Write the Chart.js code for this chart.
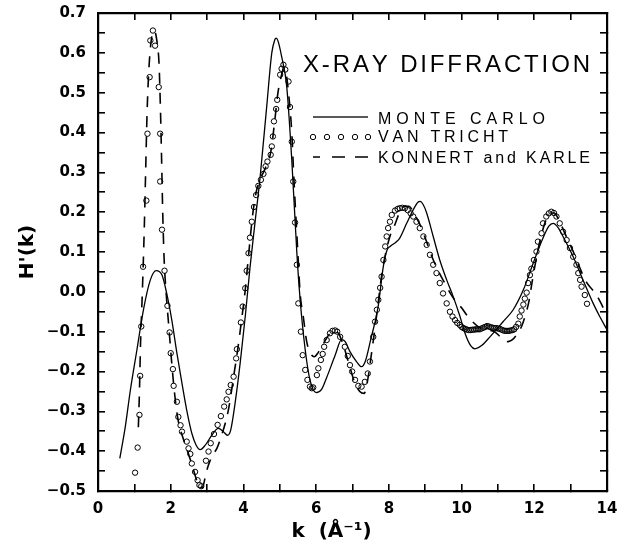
<!DOCTYPE html>
<html>
<head>
<meta charset="utf-8">
<script src="https://cdn.jsdelivr.net/npm/chart.js@4/dist/chart.umd.min.js"></script>
<style>
  html, body { margin: 0; padding: 0; background: #ffffff; }
  #wrap { width: 628px; height: 544px; }
</style>
</head>
<body>
<div id="wrap"><canvas id="c" width="628" height="544"></canvas></div>
<script>
// ---------------- DATA ----------------
const monteCarloK = [0.60,0.75,0.89,1.07,1.25,1.44,1.60,1.76,1.89,2.03,2.17,2.31,2.44,2.58,2.70,2.81,2.95,3.13,3.31,3.45,3.56,3.65,3.77,3.91,4.05,4.18,4.32,4.46,4.64,4.78,4.86,4.90,4.95,5.05,5.19,5.33,5.47,5.56,5.70,5.83,6.00,6.15,6.29,6.52,6.70,6.80,6.93,7.11,7.25,7.35,7.50,7.70,7.85,7.95,8.05,8.20,8.30,8.49,8.67,8.80,8.86,8.95,9.04,9.22,9.40,9.59,9.77,9.95,10.10,10.25,10.37,10.55,10.78,11.14,11.42,11.70,11.97,12.24,12.40,12.52,12.65,12.79,13.07,13.34,13.62,13.80,14.00];
const monteCarloH = [-0.418,-0.339,-0.247,-0.146,-0.045,0.030,0.053,0.042,-0.004,-0.071,-0.154,-0.230,-0.297,-0.355,-0.385,-0.396,-0.385,-0.360,-0.343,-0.351,-0.360,-0.347,-0.280,-0.179,-0.062,0.060,0.175,0.289,0.465,0.600,0.632,0.637,0.630,0.591,0.516,0.331,0.097,-0.020,-0.146,-0.221,-0.253,-0.245,-0.215,-0.160,-0.120,-0.125,-0.150,-0.175,-0.188,-0.175,-0.120,-0.040,0.065,0.105,0.115,0.125,0.135,0.172,0.206,0.225,0.227,0.218,0.198,0.139,0.080,0.030,-0.012,-0.060,-0.105,-0.135,-0.143,-0.135,-0.113,-0.075,-0.045,0.005,0.072,0.135,0.165,0.172,0.162,0.139,0.088,0.030,-0.029,-0.062,-0.095];

const vanTrichtK = [1.02,1.09,1.14,1.16,1.19,1.24,1.33,1.36,1.42,1.44,1.51,1.57,1.67,1.71,1.71,1.76,1.83,1.91,1.97,2.00,2.06,2.08,2.17,2.21,2.27,2.31,2.44,2.49,2.54,2.58,2.67,2.74,2.79,2.84,2.97,3.04,3.10,3.19,3.29,3.38,3.47,3.54,3.59,3.65,3.73,3.80,3.82,3.93,3.98,4.05,4.09,4.14,4.18,4.23,4.29,4.35,4.41,4.48,4.55,4.61,4.66,4.75,4.78,4.81,4.84,4.90,4.93,5.01,5.05,5.10,5.15,5.24,5.28,5.33,5.37,5.42,5.47,5.51,5.58,5.63,5.70,5.76,5.83,5.88,5.92,6.02,6.06,6.13,6.18,6.22,6.29,6.38,6.45,6.52,6.58,6.66,6.79,6.87,6.93,6.99,7.07,7.16,7.25,7.34,7.42,7.48,7.57,7.62,7.67,7.71,7.76,7.80,7.85,7.90,7.94,7.98,8.03,8.08,8.17,8.24,8.30,8.37,8.44,8.52,8.60,8.67,8.76,8.85,8.95,9.04,9.13,9.22,9.31,9.40,9.49,9.59,9.68,9.75,9.82,9.88,9.95,10.00,10.05,10.10,10.15,10.20,10.25,10.30,10.35,10.40,10.45,10.50,10.55,10.60,10.65,10.70,10.75,10.80,10.85,10.90,10.95,11.00,11.05,11.10,11.15,11.20,11.25,11.30,11.35,11.40,11.45,11.50,11.56,11.60,11.65,11.70,11.74,11.79,11.83,11.88,11.92,11.99,12.06,12.10,12.20,12.24,12.33,12.40,12.47,12.54,12.61,12.70,12.79,12.89,12.98,13.07,13.16,13.21,13.26,13.30,13.39,13.45];
const vanTrichtH = [-0.454,-0.391,-0.309,-0.211,-0.087,0.063,0.229,0.397,0.539,0.631,0.656,0.618,0.514,0.397,0.277,0.156,0.053,-0.035,-0.102,-0.154,-0.194,-0.236,-0.276,-0.314,-0.335,-0.351,-0.376,-0.393,-0.407,-0.431,-0.452,-0.473,-0.485,-0.488,-0.424,-0.401,-0.380,-0.357,-0.334,-0.312,-0.288,-0.270,-0.251,-0.234,-0.213,-0.167,-0.144,-0.077,-0.037,0.009,0.053,0.097,0.136,0.176,0.213,0.243,0.266,0.281,0.296,0.315,0.327,0.344,0.365,0.390,0.428,0.459,0.482,0.545,0.560,0.570,0.558,0.528,0.464,0.377,0.277,0.174,0.068,-0.029,-0.100,-0.159,-0.196,-0.221,-0.238,-0.242,-0.240,-0.209,-0.192,-0.171,-0.156,-0.138,-0.121,-0.104,-0.098,-0.097,-0.100,-0.113,-0.138,-0.161,-0.184,-0.200,-0.221,-0.236,-0.238,-0.226,-0.205,-0.175,-0.113,-0.075,-0.045,-0.020,0.010,0.038,0.080,0.114,0.139,0.160,0.176,0.193,0.204,0.208,0.210,0.211,0.210,0.205,0.197,0.189,0.176,0.160,0.139,0.118,0.093,0.068,0.047,0.022,-0.004,-0.029,-0.050,-0.062,-0.071,-0.078,-0.083,-0.088,-0.091,-0.093,-0.095,-0.096,-0.096,-0.095,-0.095,-0.094,-0.094,-0.094,-0.092,-0.090,-0.088,-0.086,-0.087,-0.089,-0.090,-0.091,-0.091,-0.092,-0.093,-0.095,-0.097,-0.098,-0.098,-0.098,-0.097,-0.096,-0.094,-0.088,-0.080,-0.062,-0.047,-0.032,-0.017,-0.002,0.022,0.042,0.058,0.080,0.101,0.126,0.147,0.172,0.189,0.197,0.201,0.198,0.189,0.172,0.151,0.130,0.110,0.088,0.068,0.047,0.030,0.013,-0.008,-0.030];

const konnertK = [1.11,1.14,1.17,1.22,1.27,1.31,1.35,1.40,1.47,1.55,1.62,1.68,1.72,1.75,1.78,1.82,1.88,1.95,2.02,2.10,2.20,2.35,2.50,2.62,2.72,2.80,2.88,2.95,3.02,3.15,3.27,3.40,3.50,3.60,3.73,3.85,3.95,4.05,4.15,4.25,4.35,4.45,4.60,4.75,4.85,4.95,5.05,5.10,5.17,5.24,5.33,5.38,5.43,5.49,5.56,5.65,5.74,5.85,5.95,6.06,6.20,6.35,6.50,6.62,6.75,6.90,7.05,7.20,7.32,7.42,7.53,7.62,7.71,7.80,7.92,8.05,8.15,8.30,8.45,8.55,8.70,8.85,9.00,9.20,9.40,9.55,9.70,9.85,10.00,10.14,10.30,10.50,10.70,10.90,11.10,11.28,11.40,11.50,11.65,11.75,11.85,11.95,12.10,12.30,12.45,12.55,12.70,12.90,13.10,13.30,13.43,13.60,13.76,13.95];
const konnertH = [-0.340,-0.250,-0.130,0.000,0.150,0.300,0.450,0.560,0.635,0.655,0.630,0.570,0.450,0.330,0.200,0.080,-0.010,-0.090,-0.170,-0.250,-0.320,-0.370,-0.410,-0.445,-0.475,-0.492,-0.490,-0.465,-0.440,-0.410,-0.393,-0.360,-0.330,-0.290,-0.213,-0.140,-0.070,0.005,0.100,0.190,0.250,0.280,0.310,0.350,0.420,0.500,0.545,0.560,0.550,0.500,0.400,0.300,0.210,0.110,-0.004,-0.065,-0.125,-0.155,-0.163,-0.152,-0.130,-0.108,-0.098,-0.105,-0.135,-0.180,-0.225,-0.250,-0.255,-0.220,-0.150,-0.090,-0.025,0.040,0.100,0.145,0.165,0.200,0.215,0.215,0.195,0.170,0.135,0.085,0.045,0.020,-0.005,-0.025,-0.040,-0.058,-0.075,-0.090,-0.095,-0.100,-0.115,-0.125,-0.120,-0.110,-0.087,-0.060,-0.025,0.030,0.105,0.175,0.198,0.198,0.175,0.135,0.095,0.050,0.025,0.005,-0.016,-0.050];

const seriesNames = ['MONTE CARLO', 'VAN TRICHT', 'KONNERT and KARLE'];
const chartTitle = 'X-RAY DIFFRACTION';
const xTitle = 'k  (Å⁻¹)';
const yTitle = "H'(k)";
const xTickLabels = [0, 2, 4, 6, 8, 10, 12, 14];
const yTickLabels = [-0.5, -0.4, -0.3, -0.2, -0.1, 0.0, 0.1, 0.2, 0.3, 0.4, 0.5, 0.6, 0.7];
const xTickMarks = [0, 1, 2, 3, 4, 5, 6, 7, 8, 9, 10, 11, 12, 13, 14];
const yTickMarks = [-0.5,-0.45,-0.4,-0.35,-0.3,-0.25,-0.2,-0.15,-0.1,-0.05,0,0.05,0.1,0.15,0.2,0.25,0.3,0.35,0.4,0.45,0.5,0.55,0.6,0.65,0.7];

// ---------------- helpers ----------------
function zip(ks, hs) {
  const n = Math.min(ks.length, hs.length);
  const out = [];
  for (let i = 0; i < n; i++) out.push({ x: ks[i], y: hs[i] });
  return out;
}
function fmtY(v) {
  if (!yTickLabels.some(l => Math.abs(l - v) < 1e-6)) return '';
  if (Math.abs(v) < 1e-9) return '0.0';
  return (v < 0 ? '\u2212' : '') + Math.abs(v).toFixed(1);
}
function fmtX(v) {
  return xTickLabels.some(l => Math.abs(l - v) < 1e-6) ? String(Math.round(v)) : '';
}
function drawSpaced(ctx, text, x, y, targetW) {
  const chars = Array.from(text);
  const widths = chars.map(c => ctx.measureText(c).width);
  const total = widths.reduce((a, b) => a + b, 0);
  const gap = chars.length > 1 ? (targetW - total) / (chars.length - 1) : 0;
  let cx = x;
  chars.forEach((c, i) => { ctx.fillText(c, cx, y); cx += widths[i] + gap; });
}

const legendPlugin = {
  id: 'legendText',
  afterDraw(chart) {
    const ctx = chart.ctx;
    ctx.save();
    ctx.setLineDash([]);
    ctx.strokeStyle = '#000000';
    ctx.fillStyle = '#000000';
    ctx.textBaseline = 'alphabetic';
    ctx.textAlign = 'left';
    ctx.font = '24px "Liberation Sans", Arial, sans-serif';
    drawSpaced(ctx, chartTitle, 303, 72, 287);
    ctx.font = '16px "Liberation Sans", Arial, sans-serif';
    const rows = [
      { y: 117, base: 124, w: 167 },
      { y: 137, base: 142, w: 130 },
      { y: 157, base: 163, w: 212 }
    ];
    ctx.fillRect(313, rows[0].y - 0.65, 55, 1.3);
    ctx.lineWidth = 1;
    [313, 327, 341, 355, 368].forEach(cx => {
      ctx.beginPath(); ctx.arc(cx, rows[1].y, 2.7, 0, Math.PI * 2); ctx.stroke();
    });
    [[313, 320], [332, 345], [355, 368]].forEach(([s, e]) => { ctx.fillRect(s, rows[2].y - 0.75, e - s, 1.5); });
    seriesNames.forEach((t, i) => drawSpaced(ctx, t, 378, rows[i].base, rows[i].w));
    ctx.restore();
  }
};

const tickFont = { family: '"DejaVu Sans", sans-serif', size: 15, weight: 'bold' };
const titleFont = { family: '"DejaVu Sans", sans-serif', size: 20, weight: 'bold' };
const inwardGrid = { display: true, drawOnChartArea: false, drawTicks: true, tickLength: -7, lineWidth: 1.6, color: '#000' };
const frameBorder = { display: true, width: 2.2, color: '#000' };

new Chart(document.getElementById('c'), {
  type: 'scatter',
  data: {
    datasets: [
      {
        label: seriesNames[0],
        data: zip(monteCarloK, monteCarloH),
        showLine: true,
        borderColor: '#000',
        borderWidth: 1.3,
        pointRadius: 0,
        cubicInterpolationMode: 'monotone',
        order: 3
      },
      {
        label: seriesNames[2],
        data: zip(konnertK, konnertH),
        showLine: true,
        borderColor: '#000',
        borderWidth: 1.6,
        borderDash: [11, 9],
        pointRadius: 0,
        cubicInterpolationMode: 'monotone',
        order: 2
      },
      {
        label: seriesNames[1],
        data: zip(vanTrichtK, vanTrichtH),
        showLine: false,
        borderColor: '#000',
        backgroundColor: 'rgba(0,0,0,0)',
        pointRadius: 2.7,
        pointBorderWidth: 1,
        pointBorderColor: '#000',
        pointBackgroundColor: 'rgba(0,0,0,0)',
        order: 1
      }
    ]
  },
  options: {
    responsive: false,
    animation: false,
    devicePixelRatio: 1,
    layout: { padding: { top: 13, right: 21, left: 0, bottom: 0 } },
    plugins: { legend: { display: false }, tooltip: { enabled: false } },
    events: [],
    scales: {
      x: {
        type: 'linear',
        position: 'bottom',
        min: 0, max: 14,
        afterBuildTicks: s => { s.ticks = xTickMarks.map(v => ({ value: v })); },
        afterFit: s => { s.height = 53; s.paddingLeft = 0; s.paddingRight = 0; },
        grid: inwardGrid,
        border: frameBorder,
        ticks: { color: '#000', font: tickFont, padding: 16, maxRotation: 0, autoSkip: false, callback: v => fmtX(v) },
        title: { display: true, text: xTitle + '      ', color: '#000', font: titleFont, padding: { top: 2, bottom: 0 } }
      },
      y: {
        type: 'linear',
        position: 'left',
        min: -0.5, max: 0.7,
        afterBuildTicks: s => { s.ticks = yTickMarks.map(v => ({ value: v })); },
        afterFit: s => { s.width = 98; s.paddingTop = 0; s.paddingBottom = 0; },
        grid: inwardGrid,
        border: frameBorder,
        ticks: { color: '#000', font: tickFont, padding: 19, autoSkip: false, callback: v => fmtY(v) },
        title: { display: true, text: yTitle, color: '#000', font: titleFont, padding: { top: 16, bottom: 0 } }
      },
      x2: {
        type: 'linear',
        position: 'top',
        min: 0, max: 14,
        afterBuildTicks: s => { s.ticks = xTickMarks.map(v => ({ value: v })); },
        afterFit: s => { s.height = 0; s.paddingLeft = 0; s.paddingRight = 0; },
        grid: inwardGrid,
        border: frameBorder,
        ticks: { display: false }
      },
      y2: {
        type: 'linear',
        position: 'right',
        min: -0.5, max: 0.7,
        afterBuildTicks: s => { s.ticks = yTickMarks.map(v => ({ value: v })); },
        afterFit: s => { s.width = 0; s.paddingTop = 0; s.paddingBottom = 0; },
        grid: inwardGrid,
        border: frameBorder,
        ticks: { display: false }
      }
    }
  },
  plugins: [legendPlugin]
});
</script>
</body>
</html>
